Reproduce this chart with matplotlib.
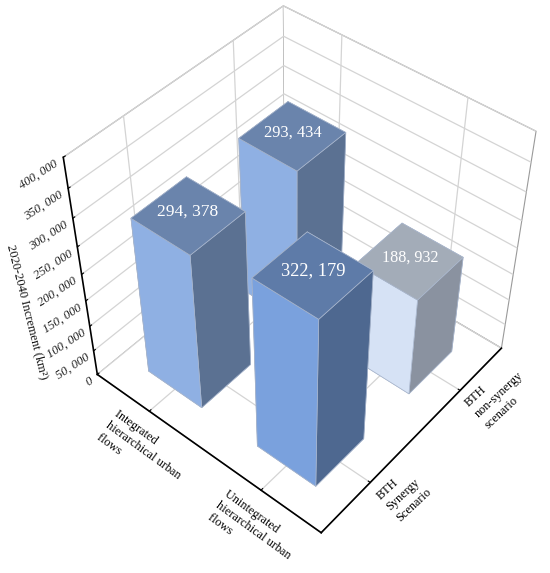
import matplotlib
matplotlib.use('Agg')
import matplotlib.pyplot as plt
import numpy as np
from mpl_toolkits.mplot3d import proj3d

flow_labels = ['        Integrated\n        hierarchical urban\n        flows',
               '        Unintegrated\n        hierarchical urban\n        flows']
scenario_labels = ['BTH\nSynergy\nScenario', 'BTH\nnon-synergy\nscenario']
integrated_values = [294378, 293434]
unintegrated_values = [322179, 188932]
z_ticks = [0, 50000, 100000, 150000, 200000, 250000, 300000, 350000, 400000]
z_tick_labels = ['0', '50, 000', '100, 000', '150, 000', '200, 000', '250, 000', '300, 000', '350, 000', '400, 000']

# bottom, top, -y, +y, -x, +x faces
integrated_colors = ['#8FB0E3', '#6A84AC', '#8FB0E3', '#8FB0E3', '#5B7192', '#5B7192']
synergy_front_colors = ['#7AA1DD', '#5E7BA8', '#7AA1DD', '#7AA1DD', '#4E6890', '#4E6890']
nonsynergy_front_colors = ['#D6E2F5', '#A3ACB8', '#D6E2F5', '#D6E2F5', '#8A92A0', '#8A92A0']

plt.rcParams['font.family'] = ['Liberation Serif', 'DejaVu Serif']
fig = plt.figure(figsize=(5.5, 5.73), dpi=100)
W = 258.9
ax = fig.add_axes([168.74 / 550, (573 - 394.1) / 573, W / 550, W / 573], projection='3d')
ax.patch.set_alpha(0)
ax.set_proj_type('persp', focal_length=1)
ax.view_init(45.462, -50.238, -0.258)
ax.set_box_aspect((1, 0.999, 0.994), zoom=2.005)
ax.computed_zorder = False

width = 0.5
order = [(0, 1, integrated_values[1], integrated_colors, 11.9),
         (0, 0, integrated_values[0], integrated_colors, 12.6),
         (1, 1, unintegrated_values[1], nonsynergy_front_colors, 11.6),
         (1, 0, unintegrated_values[0], synergy_front_colors, 13.2)]
for k, (i, j, v, cols, fs) in enumerate(order):
    poly = ax.bar3d(i + 0.25, j + 0.25, 0, width, width, v, color=cols, shade=False,
                    edgecolor='#A9B6CC', linewidth=0.5, zorder=5 + k)
    poly.set_clip_on(False)

for axis in (ax.xaxis, ax.yaxis, ax.zaxis):
    axis.set_pane_color((1, 1, 1, 1))
    axis.pane.set_edgecolor('#9A9A9A')
    axis.pane.set_linewidth(0.8)
    axis.line.set_color('black')
    axis.line.set_linewidth(1.2)
    axis._axinfo['grid'].update(color='#D4D4D4', linewidth=0.9)
    axis._axinfo['tick'].update(inward_factor=0.0, outward_factor=0.1)
    axis.offsetText.set_visible(False)
    axis.label.set_visible(False)

ax.set_xticks([0.5, 1.5])
ax.set_xticklabels(flow_labels, fontsize=8.8, rotation=-36, ha='center', va='center',
                   rotation_mode='anchor', multialignment='left', linespacing=1.3)
ax.set_yticks([0.5, 1.5])
ax.set_yticklabels(scenario_labels, fontsize=8.8, rotation=43, ha='left', va='center',
                   rotation_mode='anchor', multialignment='left', linespacing=1.3)
ax.set_zticks(z_ticks)
ax.set_zticklabels(z_tick_labels, fontsize=9, style='italic', rotation=33, ha='right', va='top',
                   rotation_mode='anchor', color='#222222')
ax.zaxis.set_ticks_position('lower')
ax.tick_params(axis='x', pad=0.6)
ax.tick_params(axis='y', pad=-0.5)
ax.tick_params(axis='z', pad=-6.1)
fig.text(27 / 550, 1 - 312 / 573, '2020-2040 Increment (km²)', fontsize=9, rotation=-76,
         ha='center', va='center', color='#111111')

# unlabelled ticks: category boundaries and half-steps of the value axis
for x in (0, 1, 2):
    ax.plot([x, x], [0, -0.035], [0, 0], color='black', lw=1, zorder=4)
for y in (0, 1, 2):
    ax.plot([2, 2.035], [y, y], [0, 0], color='black', lw=1, zorder=4)
for z in np.array(z_ticks[:-1]) + 25000:
    ax.plot([0, -0.018], [0, 0.018], [z, z], color='black', lw=0.8, zorder=4)
ax.set_xlim(0, 2, view_margin=0)
ax.set_ylim(0, 2, view_margin=0)
ax.set_zlim(0, 400000, view_margin=0)

# value labels at the centre of each bar's top, placed through the axes' own projection
M = ax.get_proj()
for k, (i, j, v, cols, fs) in enumerate(order):
    px, py, _ = proj3d.proj_transform(i + 0.5, j + 0.5, v + 5500, M)
    ax.text2D(px, py, f'{v:,}'.replace(',', ', '), transform=ax.transData, color='white',
              fontsize=fs, ha='center', va='center', zorder=20 + k)

fig.savefig('out.png', dpi=100)
